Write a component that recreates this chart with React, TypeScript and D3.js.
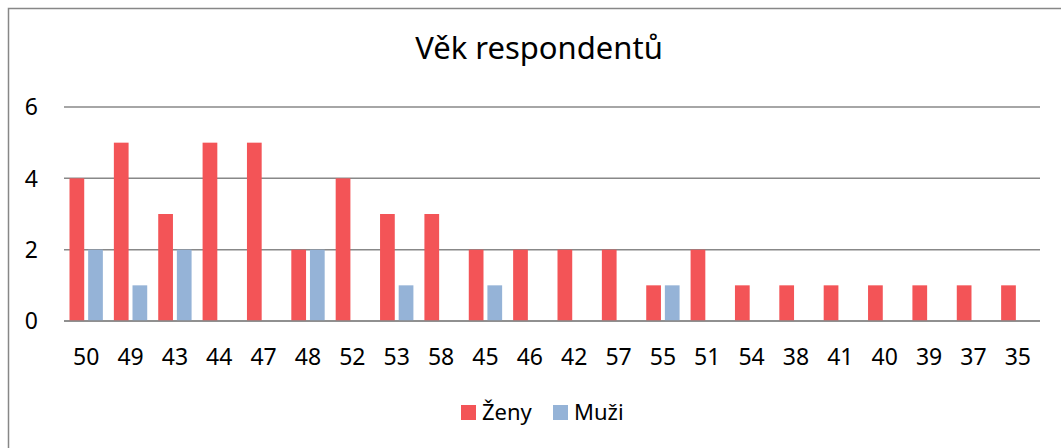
import React, { useEffect, useRef } from "react";
import * as d3 from "d3";

const categories = ["50", "49", "43", "44", "47", "48", "52", "53", "58", "45", "46", "42", "57", "55", "51", "54", "38", "41", "40", "39", "37", "35"];
const zeny = [4, 5, 3, 5, 5, 2, 4, 3, 3, 2, 2, 2, 2, 1, 2, 1, 1, 1, 1, 1, 1, 1];
const muzi = [2, 1, 2, 0, 0, 2, 0, 1, 0, 1, 0, 0, 0, 1, 0, 0, 0, 0, 0, 0, 0, 0];
const seriesNames = ["Ženy", "Muži"];
const yTicks = [0, 2, 4, 6];
const title = "Věk respondentů";

const colors = ["#F35457", "#95B3D7"];
const font = "'Noto Sans', 'Open Sans', sans-serif";

export default function App() {
  const ref = useRef<SVGSVGElement>(null);

  useEffect(() => {
    const W = 1061;
    const H = 448;
    const svg = d3.select(ref.current);
    svg.selectAll("*").remove();

    const left = 64;
    const right = 1040;
    const top = 107;
    const bottom = 321;

    // chart frame (only top and left edges fall inside the window)
    svg
      .append("rect")
      .attr("x", 8.5)
      .attr("y", 8.5)
      .attr("width", W + 50)
      .attr("height", H + 50)
      .attr("fill", "#fff")
      .attr("stroke", "#878787")
      .attr("stroke-width", 1.5);

    svg
      .append("text")
      .attr("x", 539)
      .attr("y", 59)
      .attr("text-anchor", "middle")
      .style("font-family", font)
      .style("font-size", "31px")
      .attr("fill", "#000")
      .text(title);

    const x = d3.scaleBand().domain(categories).range([left, right]).padding(0);
    const sub = d3
      .scaleBand()
      .domain(seriesNames)
      .range([5.5, x.bandwidth() - 5.5])
      .paddingInner(0.21);
    const y = d3.scaleLinear().domain([0, 6]).range([bottom, top]);

    // gridlines
    svg
      .append("g")
      .selectAll("line")
      .data(yTicks)
      .join("line")
      .attr("x1", left)
      .attr("x2", right)
      .attr("y1", (d) => y(d))
      .attr("y2", (d) => y(d))
      .attr("stroke", "#888")
      .attr("stroke-width", 1.5);

    // y labels
    svg
      .append("g")
      .selectAll("text")
      .data(yTicks)
      .join("text")
      .attr("x", 38)
      .attr("y", (d) => y(d))
      .attr("dy", "0.36em")
      .attr("text-anchor", "end")
      .style("font-family", font)
      .style("font-size", "23px")
      .text((d) => d);

    const data = [zeny, muzi];
    data.forEach((vals, si) => {
      svg
        .append("g")
        .selectAll("rect")
        .data(vals)
        .join("rect")
        .attr("x", (d, i) => (x(categories[i]) as number) + (sub(seriesNames[si]) as number))
        .attr("y", (d) => y(d))
        .attr("width", sub.bandwidth())
        .attr("height", (d) => y(0) - y(d))
        .attr("fill", colors[si]);
    });

    // redraw baseline on top of bars
    svg
      .append("line")
      .attr("x1", left)
      .attr("x2", right)
      .attr("y1", y(0))
      .attr("y2", y(0))
      .attr("stroke", "#888")
      .attr("stroke-width", 1.5);

    // x labels
    svg
      .append("g")
      .selectAll("text")
      .data(categories)
      .join("text")
      .attr("x", (d) => (x(d) as number) + x.bandwidth() / 2)
      .attr("y", 365)
      .attr("text-anchor", "middle")
      .style("font-family", font)
      .style("font-size", "23px")
      .text((d) => d);

    // legend
    const legendX = [461, 553];
    const lg = svg.append("g");
    seriesNames.forEach((name, i) => {
      lg.append("rect")
        .attr("x", legendX[i])
        .attr("y", 405)
        .attr("width", 15)
        .attr("height", 15)
        .attr("fill", colors[i]);
      lg.append("text")
        .attr("x", legendX[i] + 21)
        .attr("y", 420)
        .style("font-family", font)
        .style("font-size", "22px")
        .text(name);
    });
  }, []);

  return (
    <svg
      ref={ref}
      width={1061}
      height={448}
      style={{ position: "absolute", left: 0, top: 0, background: "#fff" }}
    />
  );
}
